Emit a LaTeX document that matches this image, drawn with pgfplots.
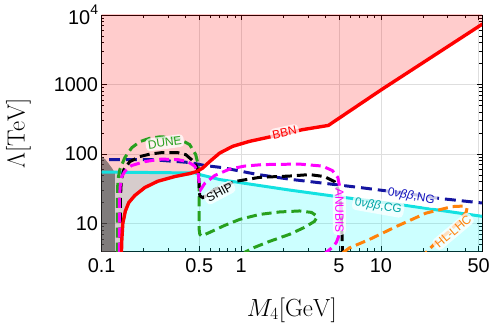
\documentclass[border=0pt]{standalone}
\usepackage[no-math]{fontspec}
\setmainfont{Liberation Sans}
\usepackage{pgfplots}
\pgfplotsset{compat=1.18}
\definecolor{cCyan}{RGB}{20,225,225}
\definecolor{fCyan}{RGB}{0,255,255}
\definecolor{fRed}{RGB}{255,0,0}
\definecolor{cMag}{RGB}{255,0,255}
\definecolor{dgreen}{RGB}{40,160,30}
\definecolor{cNavy}{RGB}{20,20,160}
\definecolor{cOrange}{RGB}{255,130,10}
\definecolor{tealtxt}{RGB}{0,165,165}
\definecolor{navytxt}{RGB}{20,20,190}
\tikzset{lab/.style={fill=white, fill opacity=0.75, text opacity=1, rounded corners=4pt, inner sep=2.2pt, font=\fontsize{12}{12}\selectfont}}
\begin{document}
\begin{tikzpicture}
\begin{axis}[
 scale only axis, width=382pt, height=237pt,
 xmode=log, ymode=log,
 xmin=0.1, xmax=53, ymin=4, ymax=10000,
 xtick={0.1,0.5,1,5,10,50}, xticklabels={0.1,0.5,1,5,10,50},
 minor xtick={0.2,0.3,0.4,0.6,0.7,0.8,0.9,2,3,4,6,7,8,9,20,30,40},
 ytick={10,100,1000,10000},
 yticklabels={10,100,1000,10\raisebox{0.5em}{\fontsize{14}{14}\selectfont 4}},
 minor ytick={5,6,7,8,9,20,30,40,50,60,70,80,90,200,300,400,500,600,700,800,900,2000,3000,4000,5000,6000,7000,8000,9000},
 tick align=inside, major tick length=5pt, minor tick length=2.8pt,
 tick style={black, line width=0.6pt},
 grid=major, major grid style={black!13, line width=0.5pt},
 axis line style={line width=0.8pt},
 ticklabel style={font=\fontsize{20}{20}\selectfont},
 xticklabel style={yshift=-4pt},
 xlabel={$M_4[\mathrm{GeV}]$}, ylabel={$\Lambda[\mathrm{TeV}]$},
 label style={font=\fontsize{24}{24}\selectfont},
 xlabel style={at={(axis description cs:0.5,-0.249)}, anchor=center},
 ylabel style={at={(axis description cs:-0.2186,0.5)}, anchor=center},
]
% cyan region
\addplot[draw=none, fill=fCyan, fill opacity=0.2] coordinates {(0.09,3) (0.09,55) (0.1,54.9) (0.26,53.8) (0.47,53.1) (0.5037,50.4) (0.6998,42.8) (0.9725,38.7) (2.213,30.2) (4.80,24.4) (13.5,18.7) (53.5,12.6) (60,12.3) (60,3)} -- cycle;
% BBN excluded region
\addplot[draw=none, fill=fRed, fill opacity=0.2] coordinates {(0.09,3) (0.1385,3) (0.1385,3.83) (0.1396,5.89) (0.1419,10) (0.1479,15.04) (0.1567,20) (0.1729,25.2) (0.2039,32.8) (0.2524,40.4) (0.3339,47.2) (0.4273,52.1) (0.4795,55.7) (0.5292,62.6) (0.5937,77.5) (0.6998,102.7) (0.8667,128.5) (1.146,151.7) (1.674,178.9) (2.741,223.3) (4.2,257) (10.05,837.5) (53.36,7418) (60,9000) (60,20000) (0.09,20000)} -- cycle;
% grey region
\addplot[draw=none, fill=black!72, fill opacity=0.6] coordinates {(0.09,3) (0.09,92) (0.1,92) (0.103,88) (0.107,82) (0.111,75) (0.115,68) (0.119,62) (0.1225,56) (0.1245,54) (0.1245,3)} -- cycle;
% 0nubb CG
\addplot[cCyan, line width=3pt] coordinates {(0.1,54.9) (0.26,53.8) (0.47,53.1) (0.5037,50.4) (0.6998,42.8) (0.9725,38.7) (2.213,30.2) (4.80,24.4) (13.5,18.7) (53.5,12.6)};
% 0nubb NG
\addplot[cNavy, line width=3pt, dash pattern=on 11pt off 6pt] coordinates {(0.113,83) (0.2213,83) (0.4274,75.2) (0.547,68.1) (0.723,63.7) (1.305,50.6) (2.286,42.9) (3.505,38.8) (7.0,32.9) (15.2,27.0) (26.1,22.9) (55,19.5)};
% DUNE
\addplot[dgreen, line width=3pt, dash pattern=on 10pt off 5pt] coordinates {(0.1297,3.8) (0.1297,22.1) (0.1308,42.8) (0.1351,59.5) (0.1467,88.5) (0.1646,123) (0.1877,150) (0.2213,168) (0.2609,176) (0.3075,174) (0.3625,163) (0.4273,136) (0.4716,97.7) (0.4914,70.2) (0.499,42.8) (0.499,22.1) (0.499,8.2) (0.505,6.95) (0.52,6.6) (0.5937,7.42) (0.7599,9.35) (0.9725,11.4) (1.351,13.45) (1.877,14.6) (2.609,15.1) (3.178,14.4) (3.508,12.6) (3.339,10.67) (2.832,8.76) (2.213,6.95) (1.593,5.51) (1.245,4.52) (1.091,3.96) (1.05,3.8)};
% SHiP
\addplot[black, line width=3pt, dash pattern=on 10pt off 5pt] coordinates {(0.1362,3.8) (0.1362,22.1) (0.1385,42.8) (0.1443,59.5) (0.1593,77.5) (0.1877,91.5) (0.2213,99.3) (0.2696,104.4) (0.3508,104.4) (0.4,97.7) (0.4488,80.1) (0.4795,65.7) (0.4955,50.4) (0.5,30.7) (0.505,25) (0.53,23.5) (0.57,25.5) (0.6447,30.7) (0.8958,40.0) (1.351,46.0) (2.213,48.0) (3.075,50.4) (3.936,47.2) (4.64,40.0) (4.939,30.7) (5.121,22.1) (5.25,8.2) (5.3,3.8)};
% ANUBIS
\addplot[cMag, line width=3pt, dash pattern=on 10pt off 5pt] coordinates {(0.134,3.8) (0.134,22.1) (0.1362,36.2) (0.1396,47.2) (0.1467,56.3) (0.1638,68.0) (0.2039,77.5) (0.2683,84.2) (0.3508,82.8) (0.4134,77.5) (0.4639,66.8) (0.4898,53.9) (0.4995,38.7) (0.5121,30.7) (0.547,37.5) (0.6447,48.8) (0.825,60.5) (1.056,66.8) (1.42,70.2) (2.609,71.4) (3.808,66.8) (4.488,57.6) (4.914,45.7) (5.08,32.8) (5.121,15.9) (5.037,6.95) (4.795,5.33) (4.488,4.52) (4.134,3.96) (4.0,3.8)};
% HL-LHC
\addplot[cOrange, line width=3pt, dash pattern=on 10pt off 5pt] coordinates {(5.35,3.8) (5.937,4.43) (8.25,5.86) (12.86,9.01) (21.06,14.08) (32.31,17.45) (38.71,17.74) (41.34,16.6) (40.67,14.4) (36.25,10.67) (30.75,7.67) (24.83,5.33) (21.41,3.96) (20.9,3.8)};
% BBN
\addplot[fRed, line width=3.4pt] coordinates {(0.1385,3.5) (0.1396,5.89) (0.1419,10) (0.1479,15.04) (0.1567,20) (0.1729,25.2) (0.2039,32.8) (0.2524,40.4) (0.3339,47.2) (0.4273,52.1) (0.4795,55.7) (0.5292,62.6) (0.5937,77.5) (0.6998,102.7) (0.8667,128.5) (1.146,151.7) (1.674,178.9) (2.741,223.3) (4.2,257) (10.05,837.5) (53.36,7418)};
% labels
\node[lab, text=dgreen, rotate=8] at (axis cs:0.2833,145) {DUNE};
\node[lab, text=fRed, rotate=12] at (axis cs:2.039,202) {BBN};
\node[lab, text=black, rotate=28] at (axis cs:0.6998,27.8) {SHIP};
\node[lab, text=cMag, rotate=-90] at (axis cs:5.037,15.36) {ANUBIS};
\node[lab, text=tealtxt, rotate=-10] at (axis cs:9.56,17.74) {0\textit{νββ},CG};
\node[lab, text=navytxt, rotate=-10] at (axis cs:16.46,24.4) {0\textit{νββ},NG};
\node[lab, text=cOrange, rotate=40] at (axis cs:32.85,7.67) {HL-LHC};
\end{axis}
\path ([shift={(-102pt,-80pt)}]current axis.south west) rectangle ([shift={(9pt,15pt)}]current axis.north east);
\end{tikzpicture}
\end{document}
